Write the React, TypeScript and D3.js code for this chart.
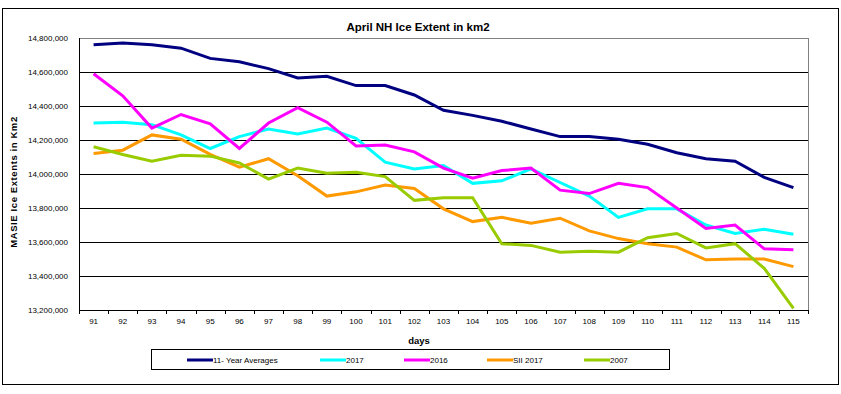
import React from "react";
import * as d3 from "d3";

const days: number[] = [91, 92, 93, 94, 95, 96, 97, 98, 99, 100, 101, 102, 103, 104, 105, 106, 107, 108, 109, 110, 111, 112, 113, 114, 115];

const avg11: number[] = [14760000, 14770000, 14760000, 14740000, 14680000, 14660000, 14620000, 14565000, 14575000, 14520000, 14520000, 14465000, 14375000, 14345000, 14310000, 14265000, 14220000, 14220000, 14205000, 14175000, 14125000, 14090000, 14075000, 13980000, 13920000];
const y2017: number[] = [14300000, 14305000, 14290000, 14230000, 14150000, 14220000, 14265000, 14235000, 14270000, 14210000, 14070000, 14030000, 14050000, 13945000, 13960000, 14030000, 13950000, 13870000, 13745000, 13795000, 13795000, 13700000, 13650000, 13675000, 13645000];
const y2016: number[] = [14590000, 14460000, 14270000, 14350000, 14295000, 14150000, 14300000, 14390000, 14305000, 14165000, 14170000, 14130000, 14035000, 13975000, 14020000, 14035000, 13905000, 13885000, 13945000, 13920000, 13800000, 13680000, 13700000, 13560000, 13555000];
const sii2017: number[] = [14120000, 14140000, 14230000, 14205000, 14115000, 14040000, 14090000, 13990000, 13870000, 13895000, 13935000, 13915000, 13795000, 13720000, 13745000, 13710000, 13740000, 13665000, 13620000, 13590000, 13570000, 13495000, 13500000, 13500000, 13455000];
const y2007: number[] = [14160000, 14115000, 14075000, 14110000, 14105000, 14065000, 13970000, 14035000, 14005000, 14010000, 13985000, 13845000, 13860000, 13860000, 13590000, 13580000, 13540000, 13545000, 13540000, 13625000, 13650000, 13565000, 13590000, 13445000, 13210000];

const yTicks: number[] = [13200000, 13400000, 13600000, 13800000, 14000000, 14200000, 14400000, 14600000, 14800000];

const seriesNames: string[] = ["11- Year Averages", "2017", "2016", "SII 2017", "2007"];
const seriesColors: string[] = ["#000080", "#00FFFF", "#FF00FF", "#FF9900", "#99CC00"];
const seriesData: number[][] = [avg11, y2017, y2016, sii2017, y2007];

const W = 841;
const H = 394;
const plot = { left: 79, top: 38, right: 808, bottom: 310 };
const FONT = "'Liberation Sans', Arial, sans-serif";

export default function App() {
  const x = d3
    .scaleBand<number>()
    .domain(days)
    .range([plot.left, plot.right])
    .paddingInner(0)
    .paddingOuter(0);
  const y = d3.scaleLinear().domain([13200000, 14800000]).range([plot.bottom, plot.top]);
  const fmt = d3.format(",");
  const cx = (d: number) => (x(d) as number) + x.bandwidth() / 2;

  const line = d3
    .line<number>()
    .x((_, i) => cx(days[i]))
    .y((v) => y(v));

  const boundaries = days.map((d) => x(d) as number).concat([plot.right]);

  const legendX = [187, 320, 404, 487, 584];

  return (
    <svg
      width={W}
      height={H}
      style={{ position: "absolute", left: 0, top: 0, background: "#fff" }}
      fontFamily={FONT}
    >
      <rect x={2.5} y={8.5} width={836} height={376} fill="#fff" stroke="#000" strokeWidth={1} />
      <text x={418} y={31} textAnchor="middle" fontSize={11.5} fontWeight="bold" fill="#000">
        April NH Ice Extent in km2
      </text>

      {/* plot border */}
      <rect
        x={plot.left + 0.5}
        y={plot.top + 0.5}
        width={plot.right - plot.left}
        height={plot.bottom - plot.top}
        fill="#fff"
        stroke="#808080"
      />
      {/* gridlines */}
      {yTicks.slice(1, -1).map((t) => (
        <line key={t} x1={plot.left} x2={plot.right} y1={Math.round(y(t)) + 0.5} y2={Math.round(y(t)) + 0.5} stroke="#000" />
      ))}
      {/* axes */}
      <line x1={plot.left + 0.5} x2={plot.left + 0.5} y1={plot.top} y2={plot.bottom} stroke="#000" />
      <line x1={plot.left} x2={plot.right + 1} y1={plot.bottom + 0.5} y2={plot.bottom + 0.5} stroke="#000" />
      {boundaries.map((b, i) => (
        <line key={i} x1={Math.round(b) + 0.5} x2={Math.round(b) + 0.5} y1={plot.bottom} y2={plot.bottom + 4} stroke="#000" />
      ))}

      {/* y tick labels */}
      {yTicks.map((t) => (
        <text key={t} x={68} y={y(t) + 3} textAnchor="end" fontSize={8} fill="#000">
          {fmt(t)}
        </text>
      ))}
      {/* x tick labels */}
      {days.map((d) => (
        <text key={d} x={cx(d)} y={324} textAnchor="middle" fontSize={8} fill="#000">
          {d}
        </text>
      ))}

      <text x={419} y={344} textAnchor="middle" fontSize={9.5} fontWeight="bold" fill="#000">
        days
      </text>
      <text
        transform={`translate(17,182) rotate(-90)`}
        textAnchor="middle"
        fontSize={9.5}
        fontWeight="bold"
        letterSpacing={0.6}
        fill="#000"
      >
        MASIE Ice Extents in Km2
      </text>

      {/* series */}
      {seriesData.map((s, i) => (
        <path
          key={seriesNames[i]}
          d={line(s) || ""}
          fill="none"
          stroke={seriesColors[i]}
          strokeWidth={3}
          strokeLinejoin="miter"
        />
      ))}

      {/* legend */}
      <rect x={151.5} y={349.5} width={518} height={20} fill="#fff" stroke="#000" />
      {seriesNames.map((n, i) => (
        <g key={n}>
          <line x1={legendX[i]} x2={legendX[i] + 26} y1={360} y2={360} stroke={seriesColors[i]} strokeWidth={3} />
          <text x={legendX[i] + 26} y={363} fontSize={8} fill="#000">
            {n}
          </text>
        </g>
      ))}
    </svg>
  );
}
